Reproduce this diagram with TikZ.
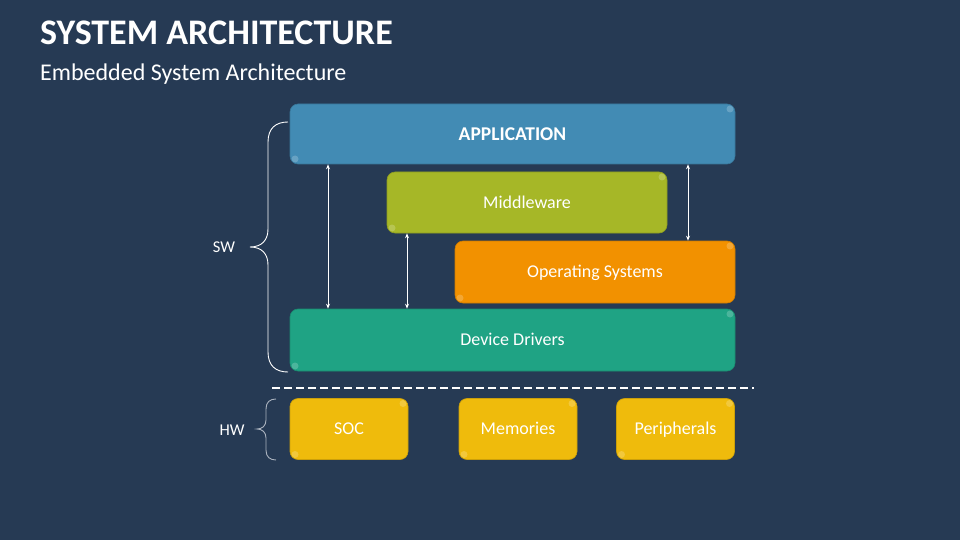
\documentclass[tikz,border=0pt]{standalone}
\usepackage{fontspec}
\setmainfont{Carlito}
\usepackage{tikz}
\usetikzlibrary{arrows.meta}

\definecolor{bgnavy}{HTML}{263A54}
\definecolor{appblue}{HTML}{428BB4}
\definecolor{midgreen}{HTML}{A6B727}
\definecolor{osorange}{HTML}{F29100}
\definecolor{drvteal}{HTML}{1FA384}
\definecolor{hwyellow}{HTML}{EFBB0C}
\definecolor{bracegray}{HTML}{AAB2BE}

\tikzset{
	layer/.style={rounded corners=8pt, text=white, font=\fontsize{18}{20}\selectfont,
		inner sep=0pt, text height=13.5pt, text depth=2pt,
		draw=#1!85!black, line width=.6pt, fill=#1,
		path picture={
			\fill[white, opacity=.2] (path picture bounding box.north east) ++(-5pt,-5pt) circle (3.5pt);
			\fill[white, opacity=.2] (path picture bounding box.south west) ++(5pt,5pt) circle (3.5pt);
		}},
	link/.style={white, line width=.8pt, {Stealth[length=5pt,width=4pt]}-{Stealth[length=5pt,width=4pt]}},
	sidelabel/.style={text=white, font=\fontsize{16.5}{18}\selectfont}
}

\begin{document}
\begin{tikzpicture}[x=1pt, y=-1pt]
	\fill[bgnavy] (0,0) rectangle (960,540);
	\useasboundingbox (0,0) rectangle (960,540);
	
	\node[anchor=base west, text=white, inner sep=0pt, font=\fontsize{36}{40}\selectfont\bfseries] (title) at (40,45) {SYSTEM ARCHITECTURE};
	\node[anchor=base west, text=white, inner sep=0pt, font=\fontsize{24}{28}\selectfont] (subtitle) at (40,81) {Embedded System Architecture};
	
	% software layers
	\node[layer=appblue, minimum width=445, minimum height=60, text height=14.3pt, font=\fontsize{19.5}{22}\selectfont\bfseries] (app) at (512.5,134) {APPLICATION};
	\node[layer=midgreen, minimum width=280, minimum height=61] (mid) at (527,202.5) {Middleware};
	\node[layer=osorange, minimum width=280, minimum height=62] (os) at (595,272) {Operating Systems};
	\node[layer=drvteal, minimum width=445, minimum height=62] (drv) at (512.5,340) {Device Drivers};
	
	% hardware
	\node[layer=hwyellow, minimum width=118, minimum height=61] (soc) at (349,429) {SOC};
	\node[layer=hwyellow, minimum width=118, minimum height=61] (mem) at (518,429) {Memories};
	\node[layer=hwyellow, minimum width=118, minimum height=61] (per) at (675.5,429) {Peripherals};
	
	\coordinate (l1) at (328,0);
	\coordinate (l2) at (407,0);
	\coordinate (l3) at (688,0);
	\draw[link] (app.south -| l1) -- (drv.north -| l1);
	\draw[link] (mid.south -| l2) -- (drv.north -| l2);
	\draw[link] (app.south -| l3) -- (os.north -| l3);
	
	\coordinate (cutl) at (272,388);
	\coordinate (cutr) at (754,388);
	\draw[white, line width=2pt, dash pattern=on 8pt off 4pt] (cutl) -- (cutr);
	
	% braces
	\draw[white, line width=.9pt] (288,122) .. controls (276,122) and (268,128) .. (268,142) -- (268,229)
		.. controls (268,240) and (262,247) .. (250,247) .. controls (262,247) and (268,254) .. (268,265)
		-- (268,352) .. controls (268,366) and (276,372) .. (288,372);
	\draw[bracegray, line width=.9pt] (276,399) .. controls (270,399) and (266,402) .. (266,409) -- (266,420)
		.. controls (266,426) and (262,429) .. (257,429) .. controls (262,429) and (266,432) .. (266,438)
		-- (266,450) .. controls (266,457) and (270,460) .. (276,460);
	\node[sidelabel] (sw) at (224,247) {SW};
	\node[sidelabel] (hw) at (232,430) {HW};
\end{tikzpicture}
\end{document}
